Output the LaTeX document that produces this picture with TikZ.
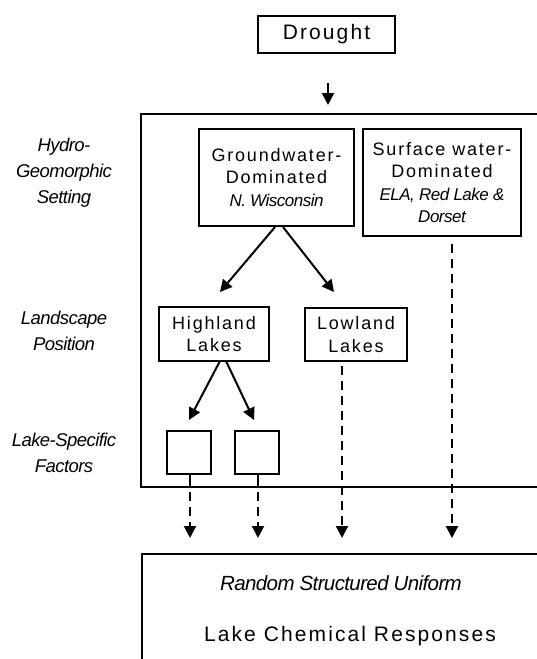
\documentclass[tikz,border=0pt]{standalone}
\usepackage{fontspec}
\setmainfont{Liberation Sans}
\newfontfamily\spaced[LetterSpace=10]{Liberation Sans}
\newfontfamily\itf[LetterSpace=-3]{Liberation Sans}
\usetikzlibrary{arrows.meta}
\tikzset{
  lbox/.style={draw, line width=2pt, inner sep=0pt, align=center},
  uptext/.style={font=\spaced\fontsize{18}{22.5}\selectfont},
  lefttext/.style={font=\itf\itshape\fontsize{18.5}{26}\selectfont, align=center, inner sep=0pt},
  arr/.style={-{Triangle[length=12pt,width=12pt]}, line width=2pt},
  dasharr/.style={arr, dash pattern=on 9pt off 6pt},
  frame/.style={line width=2pt}
}
\begin{document}
\begin{tikzpicture}[x=1pt,y=-1pt]
\useasboundingbox (0,0) rectangle (537,659);
\clip (0,0) rectangle (537,659);
% frames
\draw[frame] (545,114) -- (141,114) -- (141,487) -- (545,487);
\draw[frame] (545,554) -- (142,554) -- (142,670);
% nodes
\node[lbox, minimum width=137pt, minimum height=37pt, font=\spaced\fontsize{21}{24}\selectfont] (drought) at (326.5,34.5) {Drought};
\node[lbox, uptext, minimum width=155pt, minimum height=97pt] (gw) at (276.5,177.5)
  {Groundwater-\\Dominated\\{\itf\itshape\fontsize{17}{22}\selectfont N. Wisconsin}};
\node[lbox, uptext, minimum width=158pt, minimum height=107pt] (sw) at (442,182.5)
  {Surface water-\\Dominated\\{\itf\itshape\fontsize{17}{25}\selectfont ELA, Red Lake \&}\\{\itf\itshape\fontsize{17}{23}\selectfont Dorset}};
\node[lbox, uptext, minimum width=110pt, minimum height=54pt] (hl) at (214,334) {Highland\\Lakes};
\node[lbox, uptext, minimum width=102pt, minimum height=53pt] (ll) at (356,334.5) {Lowland\\Lakes};
\node[lbox, minimum width=44pt, minimum height=43pt] (f1) at (189,452.5) {};
\node[lbox, minimum width=44pt, minimum height=43pt] (f2) at (257,452.5) {};
% left labels
\node[lefttext] (hgs) at (64,173) {Hydro-\\Geomorphic\\Setting};
\node[lefttext] (lp) at (64,331) {Landscape\\Position};
\node[lefttext] (lsf) at (64,453) {Lake-Specific\\Factors};
% bottom texts
\node[font=\itf\itshape\fontsize{20.5}{24}\selectfont, inner sep=0pt] (rsu) at (341,583) {Random Structured Uniform};
\node[font=\spaced\fontsize{21}{24}\selectfont, inner sep=0pt] (lcr) at (350,636) {Lake Chemical Responses};
% coordinates
\coordinate (d1) at (328,83);
\coordinate (d2) at (328,105);
\coordinate (g1) at (275,227);
\coordinate (g2) at (283,227);
\coordinate (ht) at (220,292);
\coordinate (lt) at (334,292);
\coordinate (h1) at (220,361);
\coordinate (h2) at (226,361);
\coordinate (f1t) at (189,420);
\coordinate (f2t) at (254,420);
\coordinate (f1b) at (190,487);
\coordinate (f2b) at (258,487);
\coordinate (f1d) at (190,492);
\coordinate (f2d) at (258,492);
\coordinate (e1) at (190,538);
\coordinate (e2) at (258,538);
\coordinate (e3) at (342,538);
\coordinate (e4) at (452,538);
% connectors
\draw[arr] (d1) -- (d2);
\draw[arr] (g1) -- (ht);
\draw[arr] (g2) -- (lt);
\draw[arr] (h1) -- (f1t);
\draw[arr] (h2) -- (f2t);
\draw[line width=2pt] (f1.south -| f1b) -- (f1b);
\draw[line width=2pt] (f2.south -| f2b) -- (f2b);
\draw[dasharr] (f1d) -- (e1);
\draw[dasharr] (f2d) -- (e2);
\draw[dasharr] ([yshift=-4pt]ll.south -| e3) -- (e3);
\draw[dasharr] ([yshift=-7pt]sw.south -| e4) -- (e4);
\end{tikzpicture}
\end{document}
